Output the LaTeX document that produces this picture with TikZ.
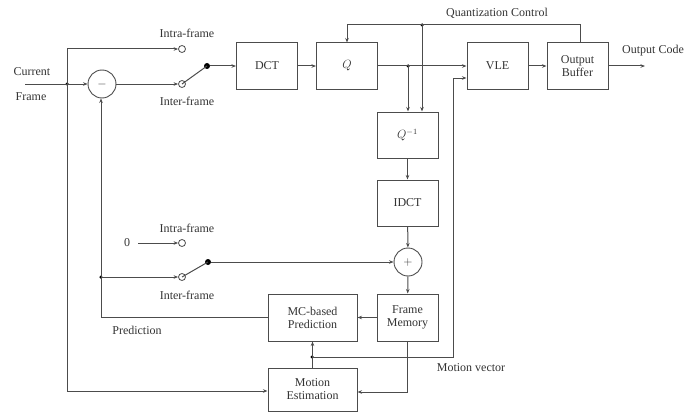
\documentclass[tikz,border=0pt]{standalone}
\usepackage{fontspec}
\setmainfont{Liberation Serif}
\usetikzlibrary{arrows.meta}
\definecolor{ln}{gray}{0.3}
\definecolor{tx}{gray}{0.2}
\begin{document}
\begin{tikzpicture}[x=1pt,y=-1pt,
  font=\fontsize{12}{16}\selectfont,
  every node/.style={text=tx},
  box/.style={draw=ln,line width=1pt,minimum width=61pt,minimum height=46pt,inner sep=1pt,align=center},
  wbox/.style={box,minimum width=89pt},
  sumc/.style={draw=ln,line width=0.9pt,circle,minimum size=28pt,inner sep=0pt},
  oc/.style={draw=ln,line width=0.8pt,circle,fill=white,minimum size=7pt,inner sep=0pt},
  pdot/.style={fill=black,circle,minimum size=6pt,inner sep=0pt},
  jdot/.style={fill=black,circle,minimum size=3.5pt,inner sep=0pt},
  lbl/.style={inner sep=0pt},
  wire/.style={draw=ln,line width=1pt},
  arr/.style={wire,-{Stealth[length=4.5pt,width=3.5pt]}}]
\useasboundingbox (0,0) rectangle (693,412);
% boxes
\node[box] (dct) at (267,66) {DCT};
\node[box] (q) at (347,66) {$Q$};
\node[box] (qi) at (407.5,135) {$Q^{-1}$};
\node[box] (idct) at (407.5,203) {IDCT};
\node[box] (vle) at (497.5,66) {VLE};
\node[box] (ob) at (577.5,66) {Output\\[-3pt]Buffer};
\node[wbox,minimum height=47pt] (mc) at (312.5,317.5) {MC-based\\[-3pt]Prediction};
\node[box,minimum height=47pt] (fm) at (407.5,317.5) {Frame\\[-3pt]Memory};
\node[wbox,minimum height=43pt] (me) at (312.5,389.5) {Motion\\[-3pt]Estimation};
\node[sumc] (sub) at (102,84) {$-$};
\node[sumc] (add) at (408,262) {$+$};
% switches
\node[oc] (ia) at (182,49) {};
\node[oc] (ib) at (182,84) {};
\node[pdot] (pa) at (207,66) {};
\node[oc] (ja) at (182,243) {};
\node[oc] (jb) at (182,277) {};
\node[pdot] (pb) at (208,262) {};
% junctions
\node[jdot] (jin) at (67,84) {};
\node[jdot] (jq) at (408,66) {};
\node[jdot] (jqc) at (422,25) {};
\node[jdot] (jmv) at (312,357) {};
\node[jdot] (jpr) at (101,277) {};
\coordinate (cin) at (25,84);
\coordinate (cout) at (645,66);
% labels
\node[lbl] (cur1) at (32,72) {Current};
\node[lbl] (cur2) at (31,97) {Frame};
\node[lbl] (l1) at (187,33) {Intra-frame};
\node[lbl] (l2) at (187,101) {Inter-frame};
\node[lbl] (l3) at (187,228) {Intra-frame};
\node[lbl] (l4) at (187,295) {Inter-frame};
\node[lbl] (zero) at (127,243) {0};
\node[lbl] (qcl) at (497,13) {Quantization Control};
\node[lbl,anchor=west] (ocl) at (622,51) {Output Code};
\node[lbl] (mvl) at (471,368) {Motion vector};
\node[lbl] (prl) at (137,330) {Prediction};
% wires
\draw[arr] (cin) -- (sub.west);
\draw[arr] (jin.center) |- (ia.west);
\draw[arr] (jin.center) |- (me.west |- 0,391);
\draw[arr] (sub.east) -- (ib.west);
\draw[wire] (pa.center) -- (ib.center);
\draw[arr] (pa) -- (dct.west);
\draw[arr] (dct) -- (q);
\draw[arr] (q.east) -- (vle.west);
\draw[arr] (jq.center) -- (jq.center |- qi.north);
\draw[wire] (ob.north -| 580,0) |- (jqc.center);
\draw[arr] (jqc.center) -| (q.north);
\draw[arr] (jqc.center) -- (jqc.center |- qi.north);
\draw[arr] (vle) -- (ob);
\draw[arr] (ob.east) -- (cout);
\draw[arr] (qi) -- (idct);
\draw[arr] (idct) -- (add);
\draw[arr] (add) -- (fm);
\draw[arr] (zero.east) ++(8,0) -- (ja.west);
\draw[wire] (pb.center) -- (jb.center);
\draw[arr] (pb) -- (add.west);
\draw[arr] (jpr.center) -- (jb.west);
\draw[arr] (mc.west) -| (sub.south -| jpr);
\draw[arr] (fm.west) -- (mc.east);
\draw[arr] (me.north) -- (mc.south);
\draw[arr] (jmv.center) -| (453,78) -- (vle.west |- 0,78);
\draw[arr] (fm.south -| 407,0) |- (me.east |- 0,392);
\end{tikzpicture}
\end{document}
